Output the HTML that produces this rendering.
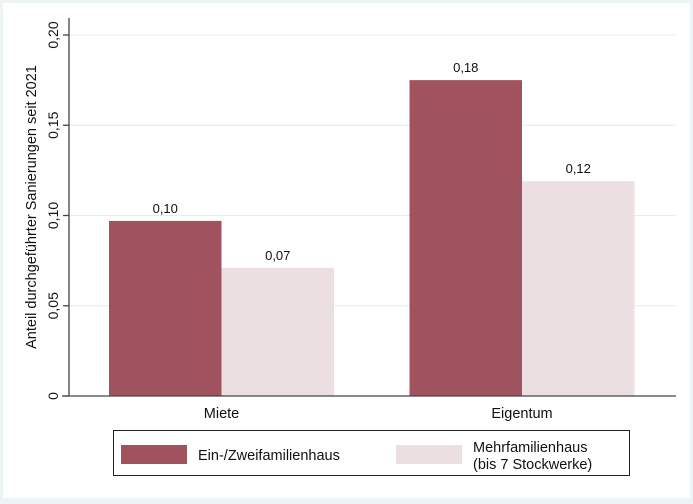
<!DOCTYPE html>
<html><head><meta charset="utf-8"><style>
body{margin:0;background:#eef3f3;}
svg{display:block;font-family:"Liberation Sans",Arial,sans-serif;}
</style></head><body>
<svg width="693" height="504">
<rect x="3" y="3" width="687" height="495" fill="#fff"/>
<g id="grid"></g>
<g id="bars"></g>
<line x1="69" y1="18" x2="69" y2="396" stroke="#444" stroke-width="1.3"/>
<line x1="62" y1="396" x2="676" y2="396" stroke="#444" stroke-width="1.3"/>
<g id="yticks"></g>
<g id="xlabels"></g>
<text transform="translate(36,207) rotate(-90)" text-anchor="middle" font-size="14.5" fill="#111">Anteil durchgeführter Sanierungen seit 2021</text>
<g>
<rect x="113.5" y="430.5" width="516" height="45" fill="#fff" stroke="#222"/>
<rect x="121" y="445" width="66" height="19" fill="#a0535f"/>
<text x="198" y="460" font-size="14.5" fill="#111">Ein-/Zweifamilienhaus</text>
<rect x="396" y="445" width="66" height="19" fill="#ecdfe2"/>
<text x="473" y="452" font-size="14.5" fill="#111">Mehrfamilienhaus</text>
<text x="473" y="469" font-size="14.5" fill="#111">(bis 7 Stockwerke)</text>
</g>
</svg>
<script>
const categories=["Miete","Eigentum"];
const seriesEin=[0.097,0.175];
const seriesMehr=[0.071,0.119];
const labelsEin=["0,10","0,18"];
const labelsMehr=["0,07","0,12"];
const yTicks=[0,0.05,0.10,0.15,0.20];
const yTickLabels=["0","0,05","0,10","0,15","0,20"];
const NS="http://www.w3.org/2000/svg";
const y=v=>396-v*1805;
const groupCenter=i=>221.5+i*300.5;
const barW=112.5;
function mk(tag,attrs,parent){const e=document.createElementNS(NS,tag);for(const k in attrs)e.setAttribute(k,attrs[k]);document.getElementById(parent).appendChild(e);return e;}
yTicks.forEach((t,i)=>{
 if(t>0){const g=mk('line',{x1:69,x2:676,y1:y(t),y2:y(t),stroke:'#e6ecec','stroke-width':1},'grid');
 
 }
 const tk=mk('line',{x1:63,x2:69,y1:y(t),y2:y(t),stroke:'#444','stroke-width':1.3},'yticks');
 
 
 const tx=mk('text',{transform:`translate(58,${y(t)}) rotate(-90)`,'text-anchor':'middle','font-size':14,fill:'#111'},'yticks');
 tx.textContent=yTickLabels[i];
 
 
});
categories.forEach((c,i)=>{
 const cx=groupCenter(i);
 const b1=mk('rect',{x:cx-barW,y:y(seriesEin[i]),width:barW,height:396-y(seriesEin[i]),fill:'#a0535f'},'bars');
 
 
 const b2=mk('rect',{x:cx,y:y(seriesMehr[i]),width:barW,height:396-y(seriesMehr[i]),fill:'#ecdfe2'},'bars');
 
 
 const l1=mk('text',{x:cx-barW/2,y:y(seriesEin[i])-8,'text-anchor':'middle','font-size':13,fill:'#111'},'bars');
 l1.textContent=labelsEin[i];
 
 
 const l2=mk('text',{x:cx+barW/2,y:y(seriesMehr[i])-8,'text-anchor':'middle','font-size':13,fill:'#111'},'bars');
 l2.textContent=labelsMehr[i];
 
 
 const xl=mk('text',{x:cx,y:418,'text-anchor':'middle','font-size':14.5,fill:'#111'},'xlabels');
 xl.textContent=c;
 
 
});
</script>
</body></html>
